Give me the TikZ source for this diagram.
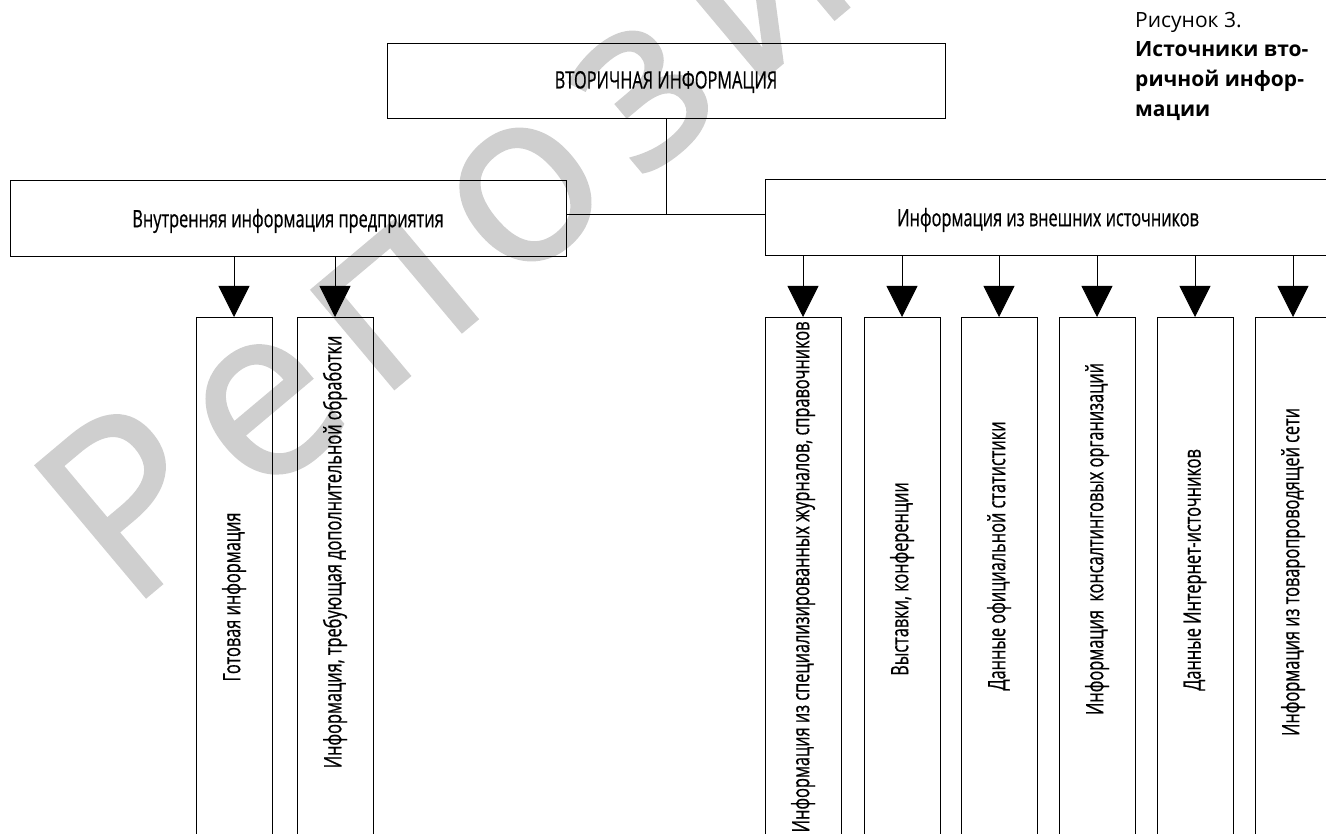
\documentclass[tikz,border=0pt]{standalone}
\usepackage{fontspec}
\setmainfont{Open Sans}
\newfontfamily\narrowfont{Open Sans}[FakeStretch=0.68, FakeBold=0.6]
\newfontfamily\wmfont{Open Sans}[LetterSpace=10, FakeBold=1.2]
\usetikzlibrary{arrows.meta}
\begin{document}
\begin{tikzpicture}[x=1pt,y=-1pt,
  box/.style={draw, line width=1pt, inner sep=0pt},
  lbl/.style={font=\narrowfont\fontsize{24}{28}\selectfont, inner sep=0pt},
  vlbl/.style={lbl, rotate=90},
  arr/.style={line width=0.8pt, -{Triangle[width=31pt,length=31pt]}},
  conn/.style={line width=1pt},
  captxt/.style={font=\fontsize{21}{24}\selectfont, anchor=base west, inner sep=0pt},
  capbold/.style={captxt, font=\fontsize{21}{24}\selectfont\bfseries},
  wmark/.style={font=\wmfont\fontsize{240}{240}\selectfont, text=black!19, rotate=40, anchor=base west, inner sep=0pt},
  lowbox/.style={box, minimum width=76pt, minimum height=560pt, anchor=north},
]
\useasboundingbox (0,0) rectangle (1326,834);
\clip (0,0) rectangle (1326,834);
% watermark
\node[wmark] (wm) at (128,612) {Репозиторий};
% main boxes
\node[box, minimum width=558pt, minimum height=75pt] (top) at (666,81) {};
\node[lbl] (toplbl) at (666,82) {ВТОРИЧНАЯ ИНФОРМАЦИЯ};
\node[box, minimum width=556pt, minimum height=76pt] (left) at (288,219) {};
\node[lbl] (leftlbl) at (288,221) {Внутренняя информация предприятия};
\node[box, minimum width=567pt, minimum height=76pt] (right) at (1048.5,218) {};
\node[lbl] (rightlbl) at (1048,220) {Информация из внешних источников};
% junction
\coordinate (junc) at (666,214.5);
\draw[conn] (top.south) -- (junc);
\draw[conn] (left.east |- junc) -- (right.west |- junc);
% lower boxes left
\node[lowbox] (l1) at (234,317) {};
\node[lowbox] (l2) at (335,317) {};
\node[vlbl] (l1t) at (234,597) {Готовая информация};
\node[vlbl] (l2t) at (335,552) {Информация, требующая дополнительной обработки};
% lower boxes right
\node[lowbox] (r1) at (803,317) {};
\node[lowbox] (r2) at (902,317) {};
\node[lowbox] (r3) at (999,317) {};
\node[lowbox] (r4) at (1097,317) {};
\node[lowbox] (r5) at (1195,317) {};
\node[lowbox] (r6) at (1293,317) {};
\node[vlbl] (r1t) at (803,577) {Информация из специализированных журналов, справочников};
\node[vlbl] (r2t) at (902,579) {Выставки, конференции};
\node[vlbl] (r3t) at (999,556) {Данные официальной статистики};
\node[vlbl] (r4t) at (1097,539) {Информация\ \ консалтинговых организаций};
\node[vlbl] (r5t) at (1195,570) {Данные Интернет-источников};
\node[vlbl] (r6t) at (1293,572) {Информация из товаропроводящей сети};
% arrows
\foreach \n in {l1,l2} \draw[arr] (\n.north |- left.south) -- (\n.north);
\foreach \n in {r1,r2,r3,r4,r5,r6} \draw[arr] (\n.north |- right.south) -- (\n.north);
% caption
\node[captxt] (c1) at (1135,28) {Рисунок 3.};
\node[capbold] (c2) at (1135,57) {Источники вто-};
\node[capbold] (c3) at (1135,87) {ричной инфор-};
\node[capbold] (c4) at (1135,117) {мации};
\end{tikzpicture}
\end{document}
